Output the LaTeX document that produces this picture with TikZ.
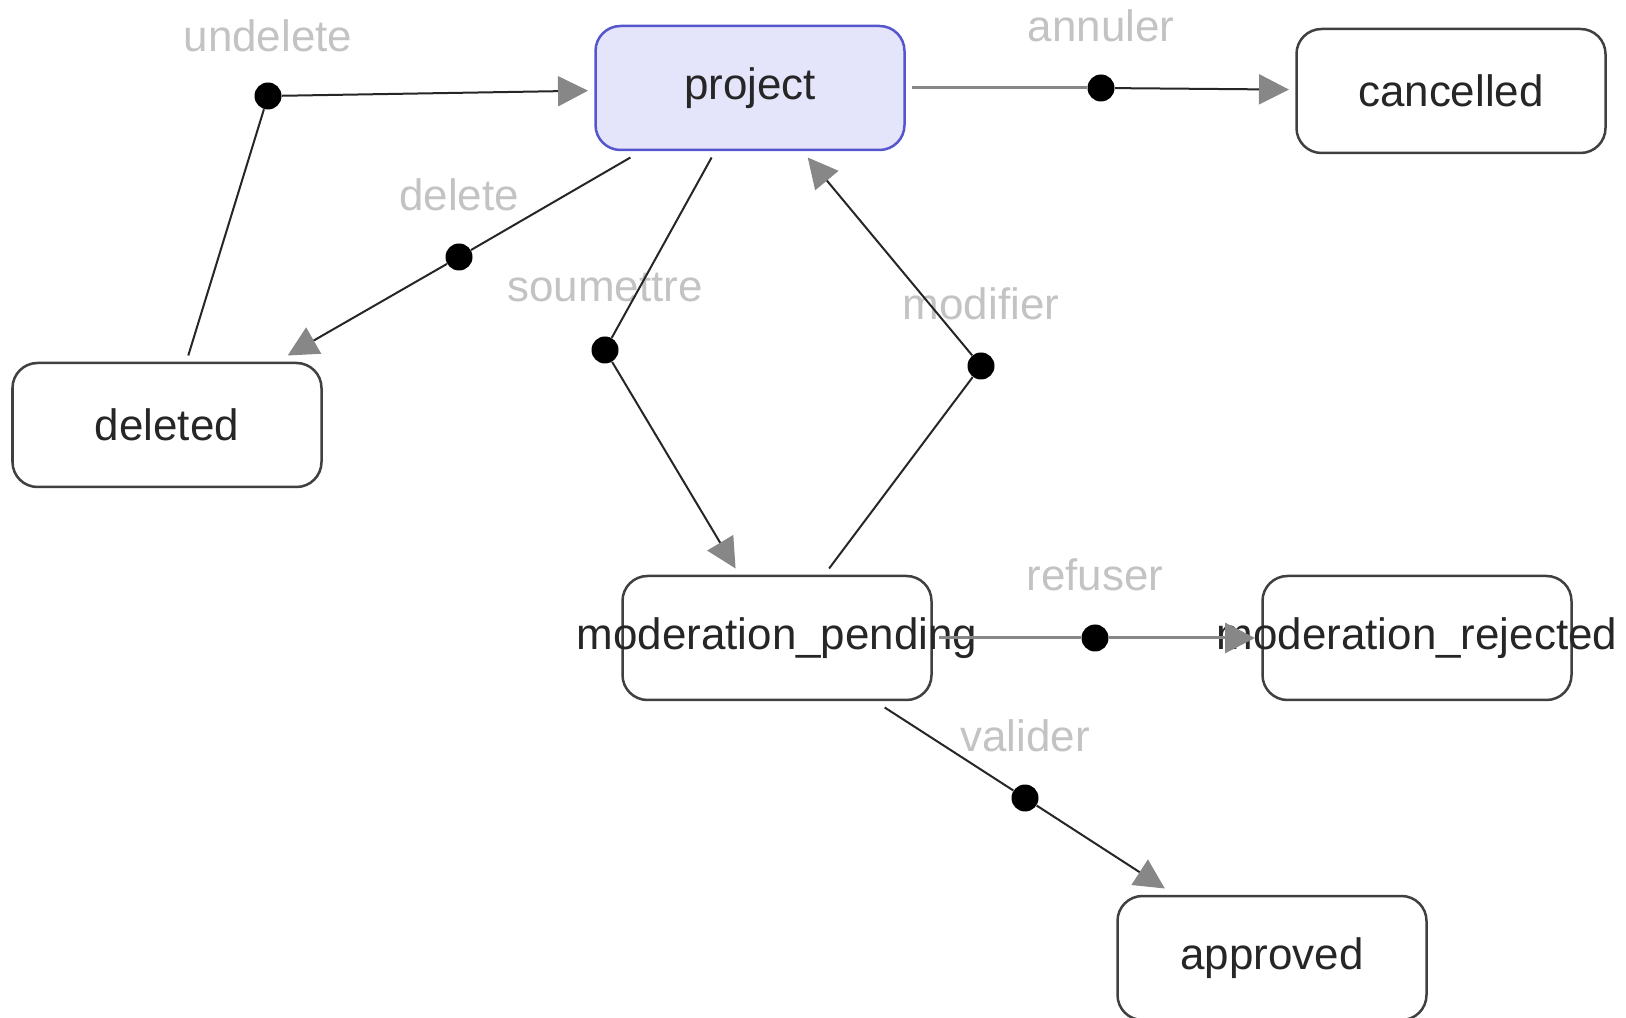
\documentclass[tikz,border=0pt]{standalone}
\usepackage{fontspec}
\setmainfont{Liberation Sans}
\usetikzlibrary{arrows.meta}
\definecolor{lavanda}{RGB}{228,228,250}
\definecolor{azulborde}{RGB}{85,85,205}
\definecolor{grisflecha}{RGB}{135,135,135}
\definecolor{grisetiqueta}{RGB}{195,195,195}
\tikzset{
  estado/.style={draw=black!75, line width=0.05cm, rounded corners=0.5cm,
    minimum width=6.18cm, minimum height=2.48cm, inner sep=0pt, outer sep=0.15cm,
    font=\fontsize{25}{30}\selectfont, text=black!85},
  inicial/.style={estado, fill=lavanda, draw=azulborde},
  punto/.style={circle, fill=black, inner sep=0pt, minimum size=0.54cm},
  transicion/.style={font=\fontsize{25}{30}\selectfont, text=grisetiqueta},
  linea/.style={black!85, line width=0.04cm},
  lineagris/.style={grisflecha, line width=0.06cm},
  flecha/.style={-{Triangle[length=0.6cm,width=0.6cm,color=grisflecha]}},
}
\begin{document}
\begin{tikzpicture}
    \useasboundingbox (0,0) rectangle (32.52,-20.36);
    %ESTADOS:
     \node[inicial] (project)   at (15.00,-1.76)  {project};
     \node[estado]  (cancelled) at (29.02,-1.82)  {cancelled};
     \node[estado]  (deleted)   at (3.34,-8.50)   {deleted};
     \node[estado]  (pending)   at (15.54,-12.76) {\makebox[0pt]{moderation\_pending}};
     \node[estado]  (rejected)  at (28.34,-12.76) {\makebox[0pt]{moderation\_rejected}};
     \node[estado]  (approved)  at (25.44,-19.16) {approved};
    %TRANSICIONES (etiqueta y punto):
     %------------------------------------
     \node[transicion] (tUndelete)  at (5.36,-0.72)  {undelete};
     \node[transicion] (tDelete)    at (9.18,-3.90)  {delete};
     \node[transicion] (tSoumettre) at (12.10,-5.76) {soumettre};
     \node[transicion] (tModifier)  at (19.62,-6.08) {modifier};
     \node[transicion] (tAnnuler)   at (22.02,-0.52) {annuler};
     \node[transicion] (tRefuser)   at (21.90,-11.50) {refuser};
     \node[transicion] (tValider)   at (20.50,-14.72) {valider};
     %------------------------------------
     \node[punto] (pUndelete)  at (5.36,-1.92)  {};
     \node[punto] (pDelete)    at (9.18,-5.14)  {};
     \node[punto] (pSoumettre) at (12.10,-7.00) {};
     \node[punto] (pModifier)  at (19.62,-7.32) {};
     \node[punto] (pAnnuler)   at (22.02,-1.76) {};
     \node[punto] (pRefuser)   at (21.90,-12.76) {};
     \node[punto] (pValider)   at (20.50,-15.96) {};
    %CONECTORES:
     %------------------------------------
     \draw[linea] (deleted) -- (pUndelete);
     \draw[linea,flecha] (pUndelete) -- (project);
     \draw[linea] (project) -- (pDelete);
     \draw[linea,flecha] (pDelete) -- (deleted);
     \draw[linea] (project) -- (pSoumettre);
     \draw[linea,flecha] (pSoumettre) -- (pending);
     \draw[linea] (pending) -- (pModifier);
     \draw[linea,flecha] (pModifier) -- (project);
     \draw[lineagris] (project) -- (pAnnuler);
     \draw[linea,flecha] (pAnnuler) -- (cancelled);
     \draw[lineagris] (pending) -- (pRefuser);
     \draw[lineagris,flecha] (pRefuser) -- (rejected);
     \draw[linea] (pending) -- (pValider);
     \draw[linea,flecha] (pValider) -- (approved);
     %------------------------------------
    \end{tikzpicture}
\end{document}
